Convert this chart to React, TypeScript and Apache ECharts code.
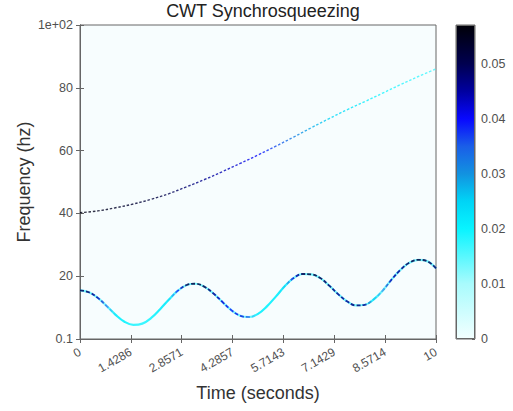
import React, { useEffect, useRef } from 'react';
import * as echarts from 'echarts';

// ---- data ----
const xTickLabels = ['0', '1.4286', '2.8571', '4.2857', '5.7143', '7.1429', '8.5714', '10'];
const yTickLabels = ['0.1', '20', '40', '60', '80', '1e+02'];
const cbarTickLabels = ['0', '0.01', '0.02', '0.03', '0.04', '0.05'];
const cbarMax = 0.057;

// FM component (ridge), sampled every 0.25 s
const fmTimes = [0, 0.25, 0.5, 0.75, 1, 1.25, 1.5, 1.75, 2, 2.25, 2.5, 2.75, 3, 3.25, 3.5, 3.75, 4, 4.25, 4.5, 4.75, 5,
  5.25, 5.5, 5.75, 6, 6.25, 6.5, 6.75, 7, 7.25, 7.5, 7.75, 8, 8.25, 8.5, 8.75, 9, 9.25, 9.5, 9.75, 10];
const fmFreq = [15.5, 14.9, 13.1, 10.5, 7.7, 5.5, 4.5, 4.9, 6.7, 9.5, 12.6, 15.4, 17.2, 17.6, 16.6, 14.5, 11.8, 9.2, 7.4, 7.0, 8.0,
  10.4, 13.5, 16.8, 19.4, 20.7, 20.6, 19.4, 17.0, 14.3, 12.0, 10.7, 10.9, 12.6, 15.4, 18.9, 22.0, 24.3, 25.2, 24.8, 22.5];
const fmPower = [0.05, 0.048, 0.044, 0.036, 0.026, 0.02, 0.018, 0.018, 0.019, 0.022, 0.028, 0.04, 0.05, 0.052, 0.05, 0.046, 0.042, 0.04, 0.042, 0.036, 0.024,
  0.02, 0.022, 0.03, 0.042, 0.05, 0.052, 0.05, 0.048, 0.046, 0.046, 0.048, 0.046, 0.03, 0.034, 0.044, 0.046, 0.05, 0.052, 0.05, 0.048];

// chirp component, sampled every 0.5 s
const chirpTimes = [0, 0.5, 1, 1.5, 2, 2.5, 3, 3.5, 4, 4.5, 5, 5.5, 6, 6.5, 7, 7.5, 8, 8.5, 9, 9.5, 10];
const chirpFreq = [40.2, 40.8, 41.8, 43.0, 44.5, 46.3, 48.5, 50.8, 53.3, 55.9, 58.6, 61.4, 64.3, 67.3, 70.2, 73.0, 75.6, 78.3, 81.0, 83.6, 86.0];
const chirpPower = [0.056, 0.055, 0.054, 0.053, 0.052, 0.05, 0.048, 0.046, 0.044, 0.042, 0.04, 0.036, 0.032, 0.028, 0.025, 0.023, 0.021, 0.019, 0.018, 0.017, 0.016];

// colormap (value -> colour)
const cmapValues = [0, 0.01, 0.02, 0.025, 0.03, 0.035, 0.04, 0.045, 0.05, 0.057];
const cmapColors = ['#f2ffff', '#a8fbfd', '#08f4ff', '#00d4f6', '#1292e0', '#1a5ee8', '#0808ff', '#0000a0', '#000050', '#000008'];

function hexToRgb(h: string) {
  const n = parseInt(h.slice(1), 16);
  return [(n >> 16) & 255, (n >> 8) & 255, n & 255];
}
function rgbAt(v: number): number[] {
  if (v <= cmapValues[0]) return hexToRgb(cmapColors[0]);
  for (let i = 1; i < cmapValues.length; i++) {
    if (v <= cmapValues[i]) {
      const f = (v - cmapValues[i - 1]) / (cmapValues[i] - cmapValues[i - 1]);
      const a = hexToRgb(cmapColors[i - 1]);
      const b = hexToRgb(cmapColors[i]);
      return a.map((x, k) => Math.round(x + (b[k] - x) * f));
    }
  }
  return hexToRgb(cmapColors[cmapColors.length - 1]);
}
function rgba(c: number[], a: number) {
  return `rgba(${c[0]},${c[1]},${c[2]},${a})`;
}

const FONT = 'Liberation Sans, Arial, sans-serif';
const AXIS = '#666666';
const LABEL = '#505050';

function gradient(times: number[], colorFn: (i: number) => string) {
  const t0 = times[0];
  const t1 = times[times.length - 1];
  return {
    type: 'linear', x: 0, y: 0, x2: 1, y2: 0,
    colorStops: times.map((t, i) => ({ offset: (t - t0) / (t1 - t0), color: colorFn(i) })),
  };
}

export default function App() {
  const ref = useRef<HTMLDivElement>(null);
  useEffect(() => {
    const chart = echarts.init(ref.current!, null, { renderer: 'svg' });
    const xStep = 10 / (xTickLabels.length - 1);
    const yStep = 100 / (yTickLabels.length - 1);
    const fmData = fmTimes.map((t, i) => [t, fmFreq[i]]);
    const option: any = {
      animation: false,
      textStyle: { fontFamily: FONT },
      title: {
        text: 'CWT Synchrosqueezing',
        left: 258, top: -3, textAlign: 'center',
        textStyle: { fontSize: 18, fontWeight: 'normal', color: '#222', fontFamily: FONT },
      },
      grid: [
        { left: 80, top: 25, width: 356, height: 314, show: true, backgroundColor: '#f7fdfe', borderColor: AXIS, borderWidth: 1 },
        { left: 456, top: 25, width: 19, height: 314, show: true, backgroundColor: 'transparent', borderColor: AXIS, borderWidth: 1 },
      ],
      xAxis: [
        {
          gridIndex: 0, type: 'value', min: 0, max: 10, interval: xStep, position: 'bottom',
          axisLine: { show: true, lineStyle: { color: AXIS } },
          axisTick: { show: true, inside: true, length: 4, lineStyle: { color: AXIS } },
          splitLine: { show: false },
          axisLabel: {
            rotate: 30, color: LABEL, fontSize: 12, margin: 12, fontFamily: FONT,
            formatter: (v: number) => xTickLabels[Math.round(v / xStep)] ?? '',
          },
          name: 'Time (seconds)', nameLocation: 'middle', nameGap: 45, nameMoveOverlap: false,
          nameTextStyle: { fontSize: 18, color: '#333', fontFamily: FONT },
        },
        {
          gridIndex: 0, type: 'value', min: 0, max: 10, interval: xStep, position: 'top',
          axisLine: { show: true, lineStyle: { color: AXIS } },
          axisTick: { show: true, inside: true, length: 4, lineStyle: { color: AXIS } },
          axisLabel: { show: false }, splitLine: { show: false },
        },
        {
          gridIndex: 1, type: 'category', data: [''],
          axisLine: { show: false }, axisTick: { show: false }, axisLabel: { show: false },
        },
      ],
      yAxis: [
        {
          gridIndex: 0, type: 'value', min: 0, max: 100, interval: yStep, position: 'left',
          axisLine: { show: true, lineStyle: { color: AXIS } },
          axisTick: { show: true, inside: true, length: 4, lineStyle: { color: AXIS } },
          splitLine: { show: false },
          axisLabel: {
            color: LABEL, fontSize: 12.5, margin: 7, fontFamily: FONT,
            formatter: (v: number) => yTickLabels[Math.round(v / yStep)] ?? '',
          },
          name: 'Frequency (hz)', nameLocation: 'middle', nameGap: 47, nameRotate: 90, nameMoveOverlap: false,
          nameTextStyle: { fontSize: 18, color: '#333', fontFamily: FONT },
        },
        {
          gridIndex: 0, type: 'value', min: 0, max: 100, interval: yStep, position: 'right',
          axisLine: { show: true, lineStyle: { color: AXIS } },
          axisTick: { show: true, inside: true, length: 4, lineStyle: { color: AXIS } },
          axisLabel: { show: false }, splitLine: { show: false },
        },
        {
          gridIndex: 1, type: 'value', min: 0, max: cbarMax, interval: 0.01, position: 'right',
          axisLine: { show: false },
          axisTick: { show: true, inside: true, length: 3, lineStyle: { color: AXIS } },
          splitLine: { show: false },
          axisLabel: {
            color: LABEL, fontSize: 12.5, margin: 6, fontFamily: FONT, showMaxLabel: false,
            formatter: (v: number) => cbarTickLabels[Math.round(v / 0.01)] ?? '',
          },
        },
      ],
      series: [
        {
          type: 'line', xAxisIndex: 0, yAxisIndex: 0, smooth: 0.4, showSymbol: false, silent: true,
          data: chirpTimes.map((t, i) => [t, chirpFreq[i]]),
          lineStyle: {
            width: 1.4, type: [2.5, 1.8],
            color: gradient(chirpTimes, (i) => rgba(rgbAt(chirpPower[i]), 0.8)),
          },
        },
        {
          // light (spread) part of the FM ridge
          type: 'line', xAxisIndex: 0, yAxisIndex: 0, smooth: 0.4, showSymbol: false, silent: true,
          data: fmData,
          lineStyle: {
            width: 2.2,
            color: gradient(fmTimes, (i) => rgba(rgbAt(Math.min(fmPower[i], 0.021)), fmPower[i] > 0.03 ? 0.55 : 0.9)),
          },
        },
        {
          // concentrated (dark) part of the FM ridge
          type: 'line', xAxisIndex: 0, yAxisIndex: 0, smooth: 0.4, showSymbol: false, silent: true,
          data: fmData,
          lineStyle: {
            width: 1.8, type: [4, 2],
            color: gradient(fmTimes, (i) => rgba(rgbAt(fmPower[i]), Math.max(0, Math.min(1, (fmPower[i] - 0.024) / 0.018)) * 0.85)),
          },
        },
        {
          type: 'bar', xAxisIndex: 2, yAxisIndex: 2, barWidth: '100%', silent: true,
          data: [cbarMax],
          itemStyle: {
            borderColor: AXIS, borderWidth: 1,
            color: {
              type: 'linear', x: 0, y: 0, x2: 0, y2: 1,
              colorStops: cmapValues.map((v, i) => ({ offset: 1 - v / cbarMax, color: cmapColors[i] })).reverse(),
            },
          },
        },
      ],
    };
    chart.setOption(option);
    return () => chart.dispose();
  }, []);
  return <div ref={ref} style={{ position: 'fixed', left: 0, top: 0, width: 513, height: 411, background: '#fff' }} />;
}
